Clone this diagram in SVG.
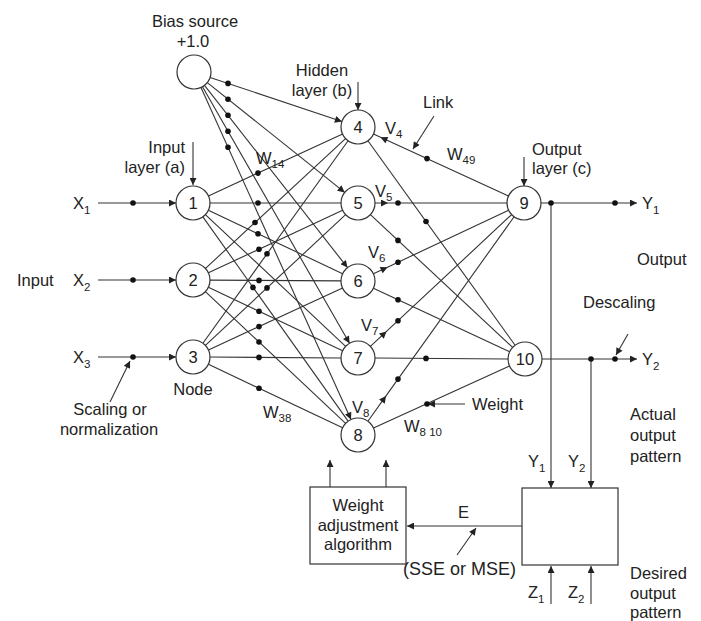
<svg xmlns="http://www.w3.org/2000/svg" width="701" height="621" viewBox="0 0 701 621">
  <style>
    text { font-family: "Liberation Sans", Arial, sans-serif; font-size: 16.5px; fill: #222; }
    .sub { font-size: 11.5px; }
    .num { font-size: 16.5px; text-anchor: middle; }
    .mid { text-anchor: middle; }
    .end { text-anchor: end; }
    .node { fill: #fff; stroke: #333; stroke-width: 1.2; }
    .box { fill: #fff; stroke: #333; stroke-width: 1.2; }
    .ln { fill: none; stroke: #333; stroke-width: 1.1; }
    .arr { fill: none; stroke: #333; stroke-width: 1.1; marker-end: url(#ah); }
    .varr { fill: none; stroke: #333; stroke-width: 1.1; marker-mid: url(#ah); }
    .dot { fill: #111; }
  </style>
  <defs>
    <marker id="ah" viewBox="0 0 10 10" refX="10" refY="5" markerWidth="9" markerHeight="7" markerUnits="userSpaceOnUse" orient="auto">
      <path d="M0,0 L10,5 L0,10 z" fill="#222"/>
    </marker>
  </defs>

  <rect width="701" height="621" fill="#fff"/>

  <!-- connectors -->
  <g id="connectors">
    <!-- inputs to input layer -->
    <path class="arr" d="M98,203 L176,203"/>
    <path class="arr" d="M98,280 L176,280"/>
    <path class="arr" d="M98,357 L176,357"/>

    <!-- bias links -->
    <path class="arr" d="M210.1,77.4 L341.9,121.6"/>
    <path class="arr" d="M207.3,82.6 L344.7,192.4"/>
    <path class="arr" d="M204.5,85.4 L347.5,267.6"/>
    <path class="arr" d="M202.5,86.7 L349.5,343.3"/>
    <path class="arr" d="M201,87.5 L351,419.5"/>

    <!-- input layer to hidden layer -->
    <path class="ln" d="M208.4,195.9 L342.6,134.1"/>
    <path class="ln" d="M210,203 L341,203"/>
    <path class="ln" d="M208.4,210.3 L342.6,273.7"/>
    <path class="ln" d="M205.4,214.6 L345.6,346.4"/>
    <path class="ln" d="M202.9,216.9 L348.1,421.1"/>
    <path class="ln" d="M205.5,268.4 L345.5,138.6"/>
    <path class="ln" d="M208.4,272.8 L342.6,210.2"/>
    <path class="ln" d="M210,280.1 L341,280.9"/>
    <path class="ln" d="M208.4,287.3 L342.6,350.7"/>
    <path class="ln" d="M205.4,291.6 L345.6,423.4"/>
    <path class="ln" d="M202.9,343.2 L348.1,140.8"/>
    <path class="ln" d="M205.4,345.4 L345.6,214.6"/>
    <path class="ln" d="M208.4,349.9 L342.6,288.1"/>
    <path class="ln" d="M210,357 L341,358"/>
    <path class="ln" d="M208.4,364.3 L342.6,427.7"/>

    <!-- hidden layer to output layer -->
    <path class="varr" d="M508.5,195.9 L380.5,137.3 L373.5,134.1"/>
    <path class="ln" d="M367.9,140.8 L515.1,345.2"/>
    <path class="varr" d="M375,203 L388,203 L507,203"/>
    <path class="ln" d="M370.4,214.6 L512.6,347.4"/>
    <path class="varr" d="M373.4,273.8 L387.5,267.2 L508.6,210.2"/>
    <path class="ln" d="M373.4,288.2 L509.6,351.8"/>
    <path class="varr" d="M370.4,346.4 L386.5,331.4 L511.6,214.6"/>
    <path class="ln" d="M375,358 L508,359"/>
    <path class="varr" d="M367.9,421.2 L386,395.9 L514.1,216.8"/>
    <path class="ln" d="M373.5,428 L509.5,366"/>

    <!-- outputs -->
    <path class="arr" d="M541,203 L637,203"/>
    <path class="arr" d="M542,359 L637,359"/>
    <path class="arr" d="M551,203 L551,488"/>
    <path class="arr" d="M591,359 L591,488"/>
    <path class="arr" d="M551,604 L551,566"/>
    <path class="arr" d="M591,604 L591,566"/>

    <!-- error feedback -->
    <path class="arr" d="M522,526 L407,526"/>
    <path class="arr" d="M330,487 L330,460"/>
    <path class="arr" d="M386,487 L386,460"/>

    <!-- label pointers -->
    <path class="arr" d="M193,142 L193,185"/>
    <path class="arr" d="M358,82 L358,110"/>
    <path class="arr" d="M524,157 L524,186"/>
    <path class="arr" d="M434,116 L413,149"/>
    <path class="arr" d="M110,402 L130,361"/>
    <path class="arr" d="M628,334 L616,355"/>
    <path class="arr" d="M465,404 L428,404"/>
    <path class="arr" d="M457,555 L476,528"/>

    <!-- weight dots -->
    <g class="dot">
      <circle cx="133" cy="203" r="2.8"/>
      <circle cx="133" cy="280" r="2.8"/>
      <circle cx="133" cy="357" r="2.8"/>

      <circle cx="228" cy="83.4" r="2.8"/>
      <circle cx="228" cy="99.2" r="2.8"/>
      <circle cx="228" cy="115.3" r="2.8"/>
      <circle cx="228" cy="131.3" r="2.8"/>
      <circle cx="228" cy="147.2" r="2.8"/>

      <circle cx="258" cy="173.1" r="2.8"/>
      <circle cx="258" cy="203" r="2.8"/>
      <circle cx="258" cy="233.7" r="2.8"/>
      <circle cx="253" cy="287.4" r="2.8"/>
      <circle cx="255" cy="222.5" r="2.8"/>
      <circle cx="259" cy="249.2" r="2.8"/>
      <circle cx="259" cy="280.4" r="2.8"/>
      <circle cx="259" cy="311.2" r="2.8"/>
      <circle cx="259" cy="342" r="2.8"/>
      <circle cx="267" cy="253.8" r="2.8"/>
      <circle cx="267" cy="287.9" r="2.8"/>
      <circle cx="259" cy="326.6" r="2.8"/>
      <circle cx="259" cy="357.4" r="2.8"/>
      <circle cx="259" cy="388.2" r="2.8"/>

      <circle cx="427" cy="158.6" r="2.8"/>
      <circle cx="426" cy="221.5" r="2.8"/>
      <circle cx="398" cy="203" r="2.8"/>
      <circle cx="398" cy="240.4" r="2.8"/>
      <circle cx="398" cy="262.2" r="2.8"/>
      <circle cx="398" cy="299.7" r="2.8"/>
      <circle cx="398" cy="320.7" r="2.8"/>
      <circle cx="426" cy="358.4" r="2.8"/>
      <circle cx="398" cy="379.1" r="2.8"/>
      <circle cx="427" cy="404" r="2.8"/>

      <circle cx="551" cy="203" r="2.8"/>
      <circle cx="615" cy="203" r="2.8"/>
      <circle cx="591" cy="359" r="2.8"/>
      <circle cx="615" cy="359" r="2.8"/>
    </g>
  </g>

  <!-- bias source -->
  <g id="bias">
    <circle class="node" cx="194" cy="72" r="17"/>
    <text class="mid" x="195" y="27">Bias source</text>
    <text class="mid" x="193" y="47">+1.0</text>
  </g>

  <!-- input layer -->
  <g id="node-1"><circle class="node" cx="193" cy="203" r="17"/><text class="num" x="193" y="209">1</text></g>
  <g id="node-2"><circle class="node" cx="193" cy="280" r="17"/><text class="num" x="193" y="286">2</text></g>
  <g id="node-3"><circle class="node" cx="193" cy="357" r="17"/><text class="num" x="193" y="363">3</text></g>

  <!-- hidden layer -->
  <g id="node-4"><circle class="node" cx="358" cy="127" r="17"/><text class="num" x="358" y="133">4</text></g>
  <g id="node-5"><circle class="node" cx="358" cy="203" r="17"/><text class="num" x="358" y="209">5</text></g>
  <g id="node-6"><circle class="node" cx="358" cy="281" r="17"/><text class="num" x="358" y="287">6</text></g>
  <g id="node-7"><circle class="node" cx="358" cy="358" r="17"/><text class="num" x="358" y="364">7</text></g>
  <g id="node-8"><circle class="node" cx="358" cy="435" r="17"/><text class="num" x="358" y="441">8</text></g>

  <!-- output layer -->
  <g id="node-9"><circle class="node" cx="524" cy="203" r="17"/><text class="num" x="524" y="209">9</text></g>
  <g id="node-10"><circle class="node" cx="525" cy="359" r="17"/><text class="num" x="525" y="365">10</text></g>

  <!-- weight adjustment block -->
  <g id="weight-adjust">
    <rect class="box" x="310" y="487" width="96" height="77"/>
    <text class="mid" x="358" y="511">Weight</text>
    <text class="mid" x="358" y="531">adjustment</text>
    <text class="mid" x="358" y="550">algorithm</text>
  </g>

  <!-- comparator block -->
  <g id="comparator">
    <rect class="box" x="522" y="488" width="96" height="77"/>
  </g>

  <!-- labels -->
  <g id="labels">
    <text class="end" x="185" y="153">Input</text>
    <text class="end" x="185" y="173">layer (a)</text>
    <text class="mid" x="322" y="76">Hidden</text>
    <text class="mid" x="322" y="96">layer (b)</text>
    <text x="532" y="155">Output</text>
    <text x="532" y="174">layer (c)</text>
    <text x="423" y="108">Link</text>

    <text x="17" y="286">Input</text>
    <text x="73" y="209">X<tspan class="sub" dy="5">1</tspan></text>
    <text x="73" y="286">X<tspan class="sub" dy="5">2</tspan></text>
    <text x="73" y="363">X<tspan class="sub" dy="5">3</tspan></text>
    <text class="mid" x="193" y="395">Node</text>
    <text class="mid" x="110" y="415">Scaling or</text>
    <text class="mid" x="109" y="435">normalization</text>

    <text x="256" y="164">W<tspan class="sub" dy="4">14</tspan></text>
    <text x="263" y="418">W<tspan class="sub" dy="4">38</tspan></text>

    <text x="385" y="134">V<tspan class="sub" dy="4">4</tspan></text>
    <text x="375" y="197">V<tspan class="sub" dy="4">5</tspan></text>
    <text x="368" y="258">V<tspan class="sub" dy="4">6</tspan></text>
    <text x="361" y="331">V<tspan class="sub" dy="4">7</tspan></text>
    <text x="352" y="413">V<tspan class="sub" dy="4">8</tspan></text>

    <text x="447" y="160">W<tspan class="sub" dy="4">49</tspan></text>
    <text x="472" y="410">Weight</text>
    <text x="404" y="432">W<tspan class="sub" dy="4">8 10</tspan></text>

    <text x="642" y="209">Y<tspan class="sub" dy="5">1</tspan></text>
    <text x="642" y="365">Y<tspan class="sub" dy="5">2</tspan></text>
    <text x="637" y="265">Output</text>
    <text x="583" y="308">Descaling</text>

    <text x="630" y="420">Actual</text>
    <text x="630" y="441">output</text>
    <text x="630" y="462">pattern</text>
    <text x="528" y="467">Y<tspan class="sub" dy="5">1</tspan></text>
    <text x="568" y="467">Y<tspan class="sub" dy="5">2</tspan></text>

    <text x="458" y="518">E</text>
    <text x="403" y="575" style="font-size:18px">(SSE or MSE)</text>

    <text x="528" y="598">Z<tspan class="sub" dy="5">1</tspan></text>
    <text x="568" y="598">Z<tspan class="sub" dy="5">2</tspan></text>
    <text x="630" y="579">Desired</text>
    <text x="630" y="599">output</text>
    <text x="630" y="618">pattern</text>
  </g>
</svg>
